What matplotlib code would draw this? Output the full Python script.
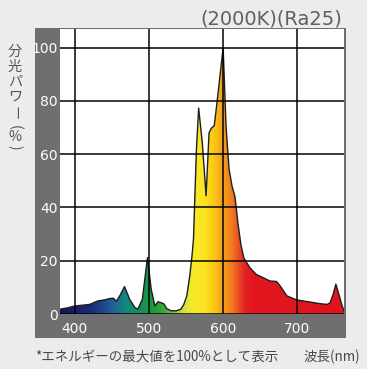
import numpy as np
import matplotlib.pyplot as plt
from matplotlib.colors import LinearSegmentedColormap

# 分光分布 (2000K, Ra25) - 図から読み取った値
wl = [380, 390, 400, 410, 420, 431, 440, 447, 452, 456,
      461, 467, 474, 481, 485, 491, 498, 503, 508, 512,
      516, 520, 524, 530, 537, 543, 547, 551, 555, 558,
      560, 562, 564, 567, 572, 577, 581, 584, 588, 592,
      596, 600, 604, 608, 612, 616, 620, 624, 628, 636,
      645, 655, 663, 672, 677, 686, 699, 717, 730, 740,
      744, 748, 752, 756, 760, 763]
power = [1.8, 2.3, 3.0, 3.3, 3.6, 4.9, 5.3, 5.8, 5.9, 4.8,
         7, 10.3, 5.5, 2.4, 1.8, 5.5, 21.2, 9.3, 3, 4.6,
         4.3, 3.8, 2, 1.2, 1.2, 1.8, 3.6, 6.8, 14.3, 21.8,
         28, 45, 62, 77.3, 64, 44.4, 68, 69.7, 70.7, 80,
         90, 100, 70, 54.4, 48, 44, 34, 26, 21, 17.4,
         14.8, 13.5, 12.4, 12.2, 10.5, 6.8, 5.3, 4.5, 3.9, 3.6,
         4.1, 7, 11.2, 7.5, 3.5, 1.1]

x_ticks = [400, 500, 600, 700]
y_ticks = [0, 20, 40, 60, 80, 100]

title = "(2000K)(Ra25)"
note = "*エネルギーの最大値を100%として表示"
x_label = "波長(nm)"
y_label_chars = ["分", "光", "パ", "ワ", "ー", "(", "%", ")"]

x_min, x_max = 380, 763
y_min, y_max = 0, 107

# 波長ごとの色
stops = [(380, "#14145a"), (420, "#1c2a78"), (440, "#1f4a8c"), (455, "#1d6b94"),
         (470, "#128a7c"), (490, "#15905a"), (505, "#1a9a3c"), (520, "#3aa83a"),
         (535, "#8cc63f"), (548, "#d8e43a"), (558, "#f6ea2a"), (575, "#fde320"),
         (588, "#fbc715"), (600, "#f5a01a"), (612, "#f07c1e"), (620, "#ec5522"),
         (628, "#e52526"), (640, "#e2161e"), (763, "#e0141c")]
cmap = LinearSegmentedColormap.from_list(
    "spec", [((w - x_min) / (x_max - x_min), c) for w, c in stops])

W, H = 367, 369
fig = plt.figure(figsize=(W / 100, H / 100), dpi=100)
fig.patch.set_facecolor("#ececec")

# 灰色の枠
frame = fig.add_axes([35 / W, 1 - 338 / H, 311 / W, 310 / H], zorder=-1)
frame.set_facecolor("#6f6f6f")
frame.set_xticks([])
frame.set_yticks([])
for s in frame.spines.values():
    s.set_visible(False)

ax = fig.add_axes([60 / W, 1 - 314 / H, 284 / W, 285 / H])
ax.set_facecolor("white")

poly = ax.fill_between(wl, power, 0, facecolor="none", edgecolor="none")
grad = np.linspace(0, 1, 400).reshape(1, -1)
img = ax.imshow(grad, extent=[x_min, x_max, y_min, y_max], aspect="auto",
                cmap=cmap, zorder=1)
img.set_clip_path(poly.get_paths()[0], transform=ax.transData)
ax.plot(wl, power, color="#1e1e1e", lw=1.0, zorder=2)

ax.set_xlim(x_min, x_max)
ax.set_ylim(y_min, y_max)
ax.set_xticks(x_ticks)
ax.set_yticks(y_ticks)
ax.set_axisbelow(False)
ax.grid(True, color="black", alpha=0.78, lw=1.4)
ax.tick_params(length=0, colors="white", labelsize=10)
ax.tick_params(axis="x", pad=5.5)
ax.tick_params(axis="y", pad=1.5)
for s in ax.spines.values():
    s.set_visible(False)

fig.text(342 / W, 1 - 19 / H, title, ha="right", va="center",
         fontsize=14, color="#606060", family="DejaVu Sans")

# 縦書きのラベル
y_pos = [52, 67, 82, 97, 113, 127, 137, 147]
for ch, yp in zip(y_label_chars, y_pos):
    rot = -90 if ch in ("ー", "(", ")") else 0
    fig.text(15 / W, 1 - yp / H, ch, ha="center", va="center", rotation=rot,
             fontsize=10.2, color="#555555",
             family=["Noto Sans CJK JP", "DejaVu Sans"])

fig.text(35 / W, 1 - 357 / H, note, ha="left", va="center", fontsize=9.7,
         color="#484848", family=["Noto Sans CJK JP", "DejaVu Sans"])
fig.text(360 / W, 1 - 357 / H, x_label, ha="right", va="center", fontsize=9.7,
         color="#484848", family=["Noto Sans CJK JP", "DejaVu Sans"])

fig.savefig("out.png", dpi=100, facecolor=fig.get_facecolor())
